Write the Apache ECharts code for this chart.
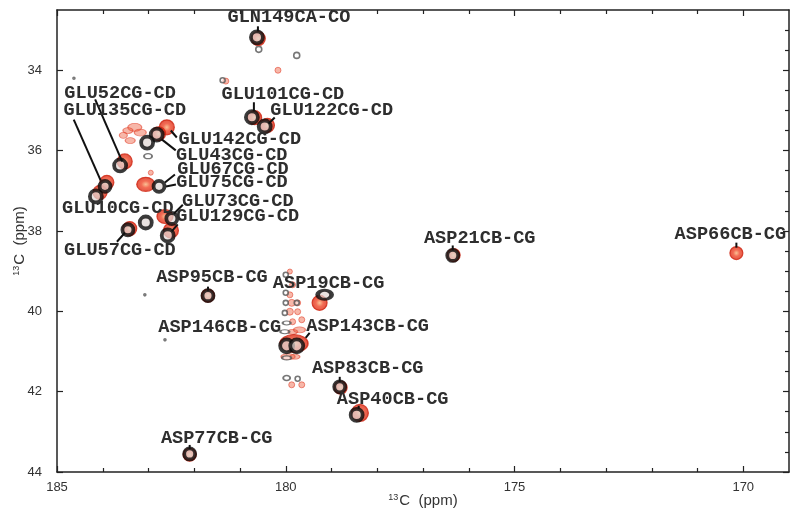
<!DOCTYPE html>
<html><head><meta charset="utf-8">
<script src="https://cdn.jsdelivr.net/npm/echarts@6/dist/echarts.min.js"></script>
<style>html,body{margin:0;padding:0;background:#fff}#c{width:800px;height:519px}</style>
</head><body><div id="c"></div>
<script>
// ================= DATA =================
const xTickLabels = [185, 180, 175, 170];
const xMinorTicks = [184, 183, 182, 181, 179, 178, 177, 176, 174, 173, 172, 171];
const yTickLabels = [34, 36, 38, 40, 42, 44];
const yMinorTicks = [33, 33.5, 34.5, 35, 35.5, 36.5, 37, 37.5, 38.5, 39, 39.5, 40.5, 41, 41.5, 42.5, 43, 43.5];

// assigned peaks (label anchors), ppm
const peakNames = ['GLN149CA-CO','GLU101CG-CD','GLU122CG-CD','GLU142CG-CD','GLU43CG-CD','GLU52CG-CD',
  'GLU135CG-CD','GLU10CG-CD','GLU67CG-CD','GLU75CG-CD','GLU73CG-CD','GLU129CG-CD','GLU57CG-CD',
  'ASP21CB-CG','ASP66CB-CG','ASP95CB-CG','ASP19CB-CG','ASP146CB-CG','ASP143CB-CG','ASP83CB-CG',
  'ASP40CB-CG','ASP77CB-CG'];
const peakX = [180.63,180.74,180.46,182.60,182.82,183.62,184.00,184.15,182.75,182.75,182.49,182.58,183.45,
  176.35,170.15,181.70,179.15,179.98,179.74,178.82,178.45,182.10];
const peakY = [33.18,35.17,35.40,35.45,35.62,36.37,36.87,37.14,36.87,36.92,37.67,38.11,37.97,
  38.61,38.54,39.61,39.61,40.86,40.86,41.88,42.55,43.55];

// black spectrum contours (strong)
const blackX = [180.63,180.74,180.46,182.82,183.03,183.62,183.95,184.15,182.77,182.49,182.58,183.45,183.06,
  176.35,181.70,179.15,179.98,179.76,178.82,178.45,182.10];
const blackY = [33.18,35.17,35.40,35.60,35.80,36.37,36.89,37.14,36.89,37.69,38.11,37.97,37.79,
  38.61,39.61,39.59,40.86,40.86,41.88,42.58,43.55];

// red spectrum contours (strong)
const redX = [180.60,180.68,180.40,182.60,182.78,183.52,183.91,184.06,183.06,182.64,182.51,183.41,
  176.33,170.15,181.70,179.26,179.82,178.80,178.38,182.10];
const redY = [33.21,35.18,35.37,35.42,35.58,36.27,36.79,37.04,36.84,37.64,37.99,37.94,
  38.60,38.55,39.61,39.79,40.80,41.90,42.53,43.57];

// weak red contours
const weakRedX = [179.91,179.85,179.91,179.87,179.74,179.91,179.74,179.65,179.85,179.85,179.70,179.95,179.80,
  179.87,179.65,180.17,181.31,183.30,183.18,183.45,183.40,183.55,182.95];
const weakRedY = [39.01,39.34,39.59,39.79,39.79,40.01,40.01,40.21,40.26,40.51,40.46,41.13,41.13,
  41.83,41.83,34.00,34.27,35.42,35.55,35.50,35.75,35.62,36.55];

// weak black / grey contours
const weakBlackX = [180.00,180.00,180.00,179.76,180.02,179.98,180.02,179.98,179.98,179.74,180.59,179.76,181.38,
  183.01,184.63,183.08,182.64];
const weakBlackY = [39.09,39.54,39.79,39.79,40.04,40.29,40.51,41.16,41.66,41.68,33.48,33.63,34.25,
  36.14,34.20,39.59,40.71];

// ================= LAYOUT / STYLE (pixels) =================
const labelOffset = [[32,-20],[31,-23],[67,-16],[73,11],[75,20],[0,-72],[22,-75],[22,12],[73,-16],[72,-5],
  [66,-16],[70,-19],[-8,21],[27,-17],[-6,-18],[4,-18],[4,-12],[-67,-19],[70,-20],[28,-19],[36,-14],[27,-16]];
const leaderLine = [[1,-11,1,-6],[2,-15,2,-6],[10,-9,4,-3],[10,9,4,2],[19,15,5,4],[-25,-66,2,-4],[-29,-66,-2,-5],
  null,[15,-11,5,-3],[16,-3,6,-1],[11,-13,2,-4],[10,-11,4,-4],[-11,12,-3,3],[0,-10,0,-5],[0,-10,0,-5],
  [0,-9,0,-5],null,null,[12,-13,8,-8],[0,-10,0,-5],[2,-8,2,-5],[0,-9,0,-5]];
const blackSize = [12,12,12,12,12,12,11,12,11,11,12,11,12,11,11,[14,9],13,13,11,12,11];
const redSize = [14,14,14,15,14,15,14,14,[18,14],[16,14],15,14,13,13,13,15,[28,18],13,17,13];
const weakRedSize = [5,6,6,7,6,7,6,6,6,[10,5],[12,6],[14,6],[10,5],6,6,6,6,[14,8],[12,7],[10,6],[10,6],[8,6],5];
const weakBlackSize = [5,5,5,5,5,[8,4],[9,4],[9,4],[7,5],5,6,6,5,[8,5],2,2,2];

const zip = (a, b) => a.map((v, i) => [v, b[i]]);

const chart = echarts.init(document.getElementById('c'), null, {renderer: 'canvas'});
const axisColor = '#222';
const nameRich = {
  s: {fontSize: 9, verticalAlign: 'top', fontFamily: 'Liberation Sans', color: '#333', padding: [0, 1, 6, 0]},
  m: {fontSize: 15, fontFamily: 'Liberation Sans', color: '#333'}
};
function xAx(pos, ticks, len, showLine, showLabel, extra) {
  return Object.assign({
    type: 'value', position: pos, min: 169, max: 185, inverse: true,
    axisLine: {show: showLine, onZero: false, lineStyle: {color: axisColor, width: 1.5}},
    axisTick: {show: true, inside: true, length: len, customValues: ticks, lineStyle: {color: axisColor, width: 1.2}},
    axisLabel: {show: showLabel, customValues: ticks, margin: 9, color: '#333', fontSize: 13, fontFamily: 'Liberation Sans'},
    splitLine: {show: false}
  }, extra || {});
}
function yAx(pos, ticks, len, showLine, showLabel, extra) {
  return Object.assign({
    type: 'value', position: pos, min: 32.5, max: 44, inverse: true,
    axisLine: {show: showLine, onZero: false, lineStyle: {color: axisColor, width: 1.5}},
    axisTick: {show: true, inside: true, length: len, customValues: ticks, lineStyle: {color: axisColor, width: 1.2}},
    axisLabel: {show: showLabel, customValues: ticks, margin: 15, color: '#333', fontSize: 13, fontFamily: 'Liberation Sans'},
    splitLine: {show: false}
  }, extra || {});
}

const redGrad = new echarts.graphic.RadialGradient(0.5, 0.5, 0.5, [
  {offset: 0, color: '#f9b27a'}, {offset: 0.45, color: '#f0482a'}, {offset: 1, color: '#d82814'}]);

chart.setOption({
  animation: false,
  backgroundColor: '#fff',
  grid: {left: 57, right: 11, top: 10, bottom: 47, containLabel: false, outerBoundsMode: 'none'},
  xAxis: [
    xAx('bottom', xTickLabels, 6, true, true, {
      name: '{s|13}{m|C  (ppm)}', nameLocation: 'middle', nameGap: 21, nameMoveOverlap: false,
      nameTextStyle: {rich: nameRich}
    }),
    xAx('bottom', xMinorTicks, 4, false, false),
    xAx('top', xTickLabels, 6, true, false),
    xAx('top', xMinorTicks, 4, false, false)
  ],
  yAxis: [
    yAx('left', yTickLabels, 6, true, true, {
      name: '{s|13}{m|C  (ppm)}', nameLocation: 'middle', nameGap: 30, nameRotate: 90, nameMoveOverlap: false,
      nameTextStyle: {rich: nameRich}
    }),
    yAx('right', yTickLabels, 6, true, false),
    yAx('right', yMinorTicks, 4, false, false)
  ],
  series: [
    {
      type: 'scatter', name: 'weakRed', z: 1, data: zip(weakRedX, weakRedY),
      symbolSize: (v, p) => weakRedSize[p.dataIndex],
      itemStyle: {color: 'rgba(236,90,60,0.55)', borderColor: 'rgba(225,60,40,0.7)', borderWidth: 1},
      silent: true
    },
    {
      type: 'scatter', name: 'weakBlack', z: 2, data: zip(weakBlackX, weakBlackY),
      symbolSize: (v, p) => weakBlackSize[p.dataIndex],
      itemStyle: {color: 'rgba(255,255,255,0.6)', borderColor: '#555', borderWidth: 1.6},
      silent: true
    },
    {
      type: 'scatter', name: 'red', z: 3, data: zip(redX, redY),
      symbolSize: (v, p) => redSize[p.dataIndex],
      itemStyle: {color: redGrad, borderColor: '#d02512', borderWidth: 1.2},
      silent: true
    },
    {
      type: 'scatter', name: 'black', z: 4, data: zip(blackX, blackY),
      symbolSize: (v, p) => blackSize[p.dataIndex],
      itemStyle: {color: 'rgba(225,215,212,0.9)', borderColor: '#0a0a0a', borderWidth: 3.8},
      silent: true
    },
    {
      type: 'custom', name: 'labels', z: 10, clip: false, silent: true,
      coordinateSystem: 'cartesian2d',
      data: zip(peakX, peakY),
      encode: {x: 0, y: 1},
      renderItem: function (params, api) {
        const i = params.dataIndex;
        const p = api.coord([api.value(0), api.value(1)]);
        const off = labelOffset[i], ln = leaderLine[i];
        const children = [];
        if (ln) {
          children.push({type: 'line', shape: {x1: p[0] + ln[0], y1: p[1] + ln[1], x2: p[0] + ln[2], y2: p[1] + ln[3]},
            style: {stroke: '#111', lineWidth: 2}});
        }
        children.push({type: 'text', x: p[0] + off[0], y: p[1] + off[1],
          style: {text: peakNames[i], fill: '#2e2e2e', font: 'bold 18.6px "Liberation Mono"',
            align: 'center', verticalAlign: 'middle', textAlign: 'center', textVerticalAlign: 'middle'}});
        return {type: 'group', children: children};
      }
    }
  ]
});
</script></body></html>
